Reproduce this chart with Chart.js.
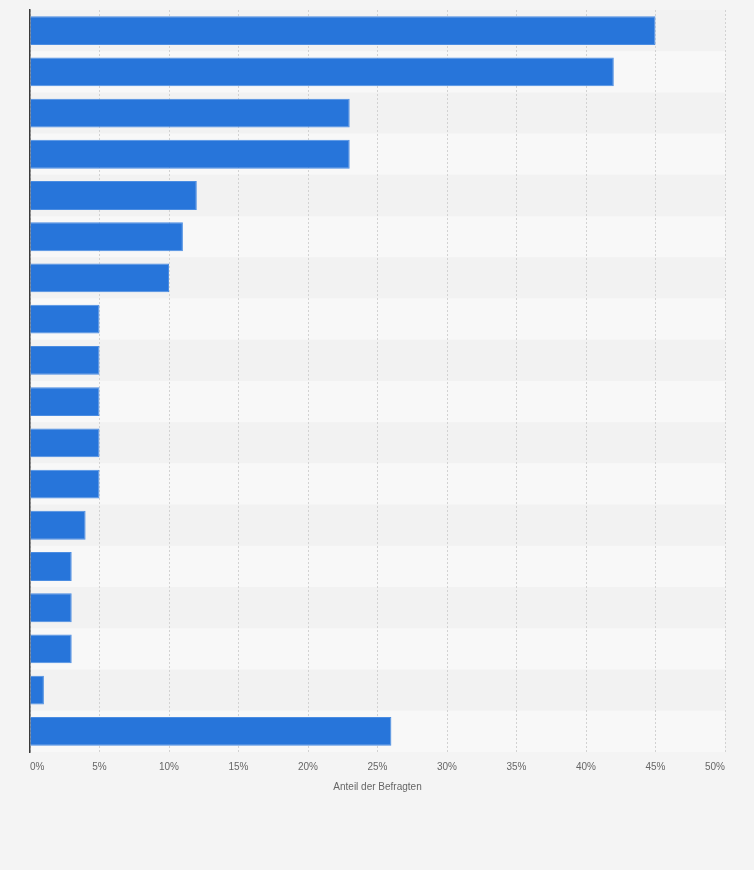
<!DOCTYPE html>
<html>
<head>
<meta charset="utf-8">
<script src="https://cdn.jsdelivr.net/npm/chart.js@4"></script>
<style>
    html, body { margin: 0; padding: 0; background: #f4f4f4; }
    #wrap { width: 754px; height: 870px; }
</style>
</head>
<body>
<div id="wrap"><canvas id="barChart" width="754" height="870"></canvas></div>
<script>
// Antworten (Kategorienamen sind im Original nicht beschriftet)
const categories = [
    'Antwort 1', 'Antwort 2', 'Antwort 3', 'Antwort 4', 'Antwort 5', 'Antwort 6',
    'Antwort 7', 'Antwort 8', 'Antwort 9', 'Antwort 10', 'Antwort 11', 'Antwort 12',
    'Antwort 13', 'Antwort 14', 'Antwort 15', 'Antwort 16', 'Antwort 17', 'Antwort 18'
];
const shares = [45, 42, 23, 23, 12, 11, 10, 5, 5, 5, 5, 5, 4, 3, 3, 3, 1, 26];
const xTicks = [0, 5, 10, 15, 20, 25, 30, 35, 40, 45, 50];
const axisTitle = 'Anteil der Befragten';

Chart.defaults.font.family = '"Liberation Sans", Arial, sans-serif';
Chart.defaults.color = '#666666';

// alternating row bands behind the bars
const rowBands = {
    id: 'rowBands',
    beforeDraw(chart) {
        const { ctx, chartArea, scales } = chart;
        const y = scales.y;
        const step = (chartArea.bottom - chartArea.top) / categories.length;
        ctx.save();
        categories.forEach((c, i) => {
            const mid = y.getPixelForValue(i);
            ctx.fillStyle = i % 2 ? '#f8f8f8' : '#f2f2f2';
            ctx.fillRect(chartArea.left, mid - step / 2, chartArea.right - chartArea.left, step);
        });
        ctx.restore();
    }
};

new Chart(document.getElementById('barChart'), {
    type: 'bar',
    data: {
        labels: categories,
        datasets: [{
            data: shares,
            backgroundColor: '#2775da',
            borderColor: '#4b8de2',
            borderWidth: 1,
            borderSkipped: 'left',
            categoryPercentage: 1,
            barPercentage: 0.7
        }]
    },
    options: {
        indexAxis: 'y',
        responsive: false,
        animation: false,
        layout: { padding: { left: 22, right: 29, top: 10, bottom: 74 } },
        plugins: {
            legend: { display: false },
            tooltip: { enabled: false }
        },
        scales: {
            x: {
                min: 0,
                max: 50,
                afterBuildTicks(scale) {
                    scale.ticks = xTicks.map(v => ({ value: v }));
                },
                grid: {
                    color: '#d2d2d2',
                    lineWidth: 1,
                    drawTicks: false
                },
                border: { display: false, dash: [2, 2] },
                ticks: {
                    align: 'inner',
                    padding: 9,
                    font: { size: 10 },
                    color: '#666666',
                    callback: v => v + '%'
                },
                title: {
                    display: true,
                    text: axisTitle,
                    font: { size: 10, lineHeight: 1 },
                    color: '#666666',
                    padding: { top: 0, bottom: 4 }
                }
            },
            y: {
                grid: { display: false },
                border: { display: true, color: '#3a3a3a', width: 1.5 },
                ticks: { display: false }
            }
        }
    },
    plugins: [rowBands]
});
</script>
</body>
</html>
